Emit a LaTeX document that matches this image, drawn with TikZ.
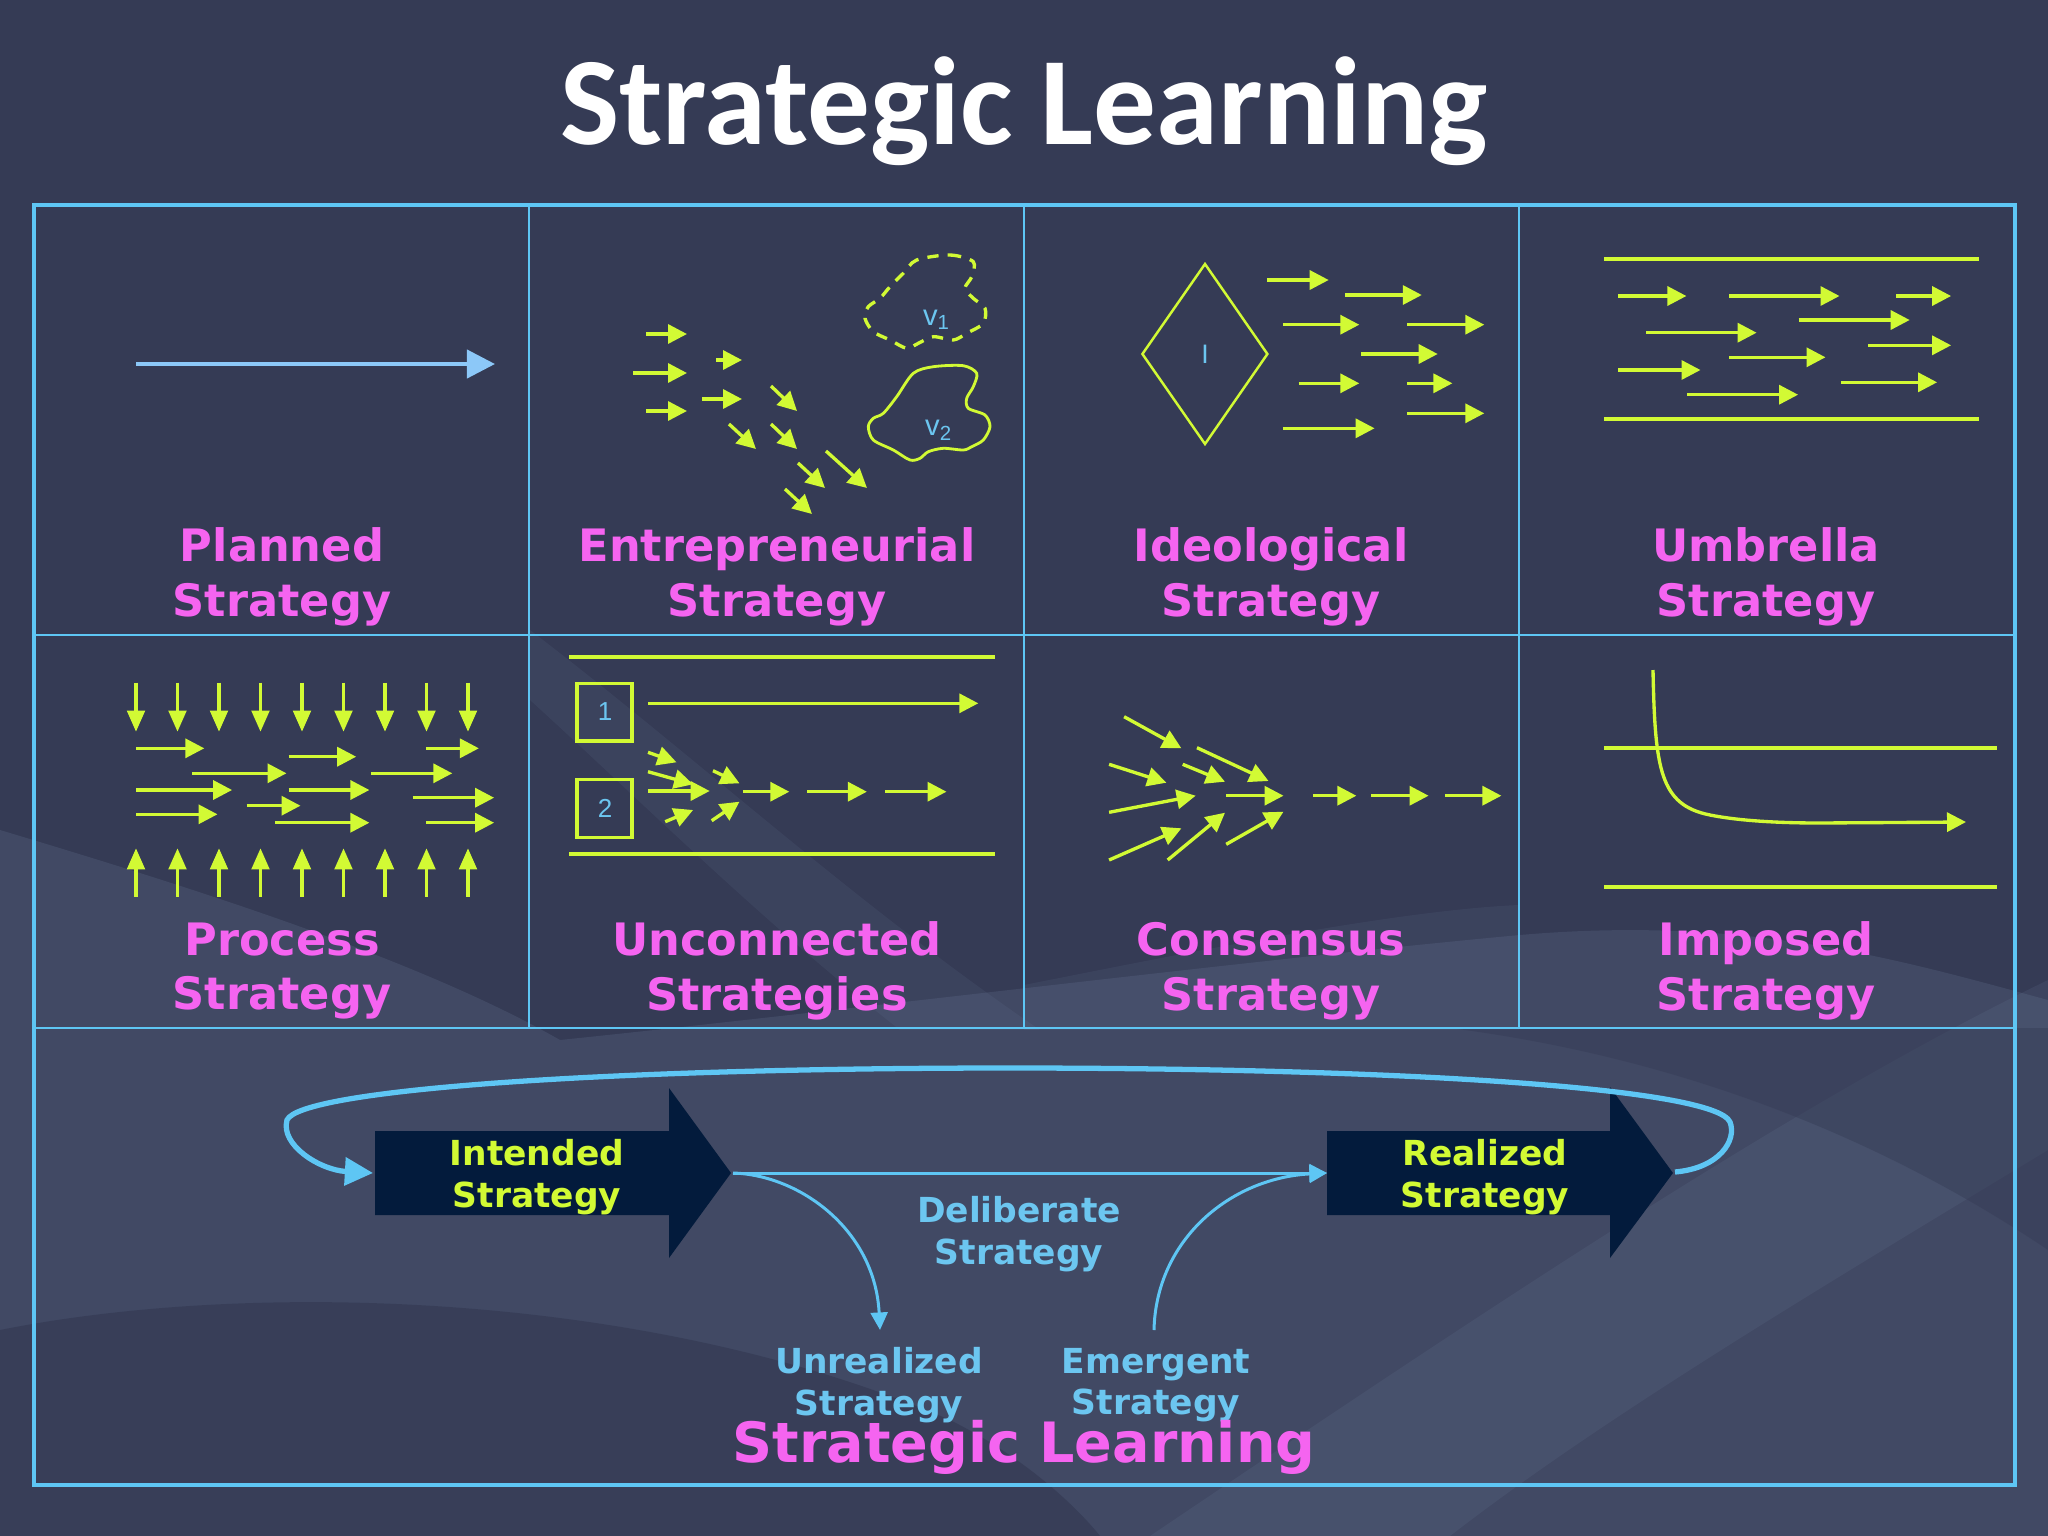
\documentclass[tikz,border=0pt]{standalone}
\usepackage{fontspec}
\setmainfont{DejaVu Sans}
\newfontfamily\titlefont{Carlito}
\newfontfamily\arialfont{Liberation Sans}
\usetikzlibrary{arrows.meta}
\definecolor{bgc}{RGB}{53,59,85}
\definecolor{wavec}{RGB}{120,140,170}
\definecolor{lineblue}{RGB}{94,198,244}
\definecolor{paleblue}{RGB}{140,200,248}
\definecolor{limec}{RGB}{210,250,52}
\definecolor{magc}{RGB}{245,100,240}
\definecolor{navyc}{RGB}{3,27,60}
\definecolor{txtblue}{RGB}{108,198,240}
\begin{document}
\begin{tikzpicture}[x=0.01cm,y=-0.01cm,
  gridl/.style={draw=lineblue,line width=0.75pt},
  yl/.style={draw=limec,line width=0.95pt},
  ya/.style={yl,-{Triangle[length=5.4pt,width=5.4pt]}},
  yav/.style={yl,-{Triangle[length=6pt,width=5pt]}},
  lbl/.style={text=magc,font=\bfseries\fontsize{12.7}{15.6}\selectfont,align=center},
  blbl/.style={text=txtblue,font=\bfseries\fontsize{9.8}{11.8}\selectfont,align=center},
  ylbl/.style={text=limec,font=\bfseries\fontsize{9.8}{11.8}\selectfont,align=center},
  sm/.style={text=txtblue,font=\arialfont\fontsize{8.3}{9}\selectfont,inner sep=0pt},
  bl/.style={draw=lineblue,line width=0.85pt}]
\useasboundingbox (0,0) rectangle (2048,1536);
% background
\fill[bgc] (0,0) rectangle (2048,1536);
\fill[wavec,opacity=0.18] (0,830) .. controls (200,890) and (420,960) .. (560,1040) .. controls (850,1010) and (1250,960) .. (1520,935) .. controls (1750,915) and (1900,960) .. (2048,1000) -- (2048,1536) -- (0,1536) -- cycle;
\fill[wavec,opacity=0.10] (530,630) .. controls (700,760) and (850,900) .. (1040,1030) -- (900,1030) .. controls (760,920) and (640,800) .. (530,700) -- cycle;
\fill[wavec,opacity=0.10] (1024,985) .. controls (1200,950) and (1400,910) .. (1519,905) -- (1519,1030) -- (1024,1030) -- cycle;
\fill[bgc,opacity=0.75] (0,1330) .. controls (250,1280) and (650,1290) .. (950,1420) .. controls (1050,1470) and (1100,1536) .. (1100,1536) -- (0,1536) -- cycle;
\fill[wavec,opacity=0.12] (1150,1536) .. controls (1500,1300) and (1800,1100) .. (2048,980) -- (2048,1150) .. controls (1800,1300) and (1600,1420) .. (1450,1536) -- cycle;
\fill[bgc,opacity=0.45] (1450,1028) .. controls (1700,1060) and (1900,1150) .. (2048,1250) -- (2048,1028) -- cycle;

% title
\node[text=white,font=\titlefont\bfseries\fontsize{35.6}{40}\selectfont,anchor=base] (title) at (1024,144) {Strategic Learning};

% grid
\draw[gridl] (529,205) -- (529,1028);
\draw[gridl] (1024,205) -- (1024,1028);
\draw[gridl] (1519,205) -- (1519,1028);
\draw[gridl] (34,635) -- (2015,635);
\draw[gridl] (34,1028) -- (2015,1028);
\draw[draw=lineblue,line width=1.4pt] (34,205) rectangle (2015,1485);

% labels
\node[lbl] (l1) at (282,577) {Planned\\Strategy};
\node[lbl] (l2) at (777,577) {Entrepreneurial\\Strategy};
\node[lbl] (l3) at (1271,577) {Ideological\\Strategy};
\node[lbl] (l4) at (1766,577) {Umbrella\\Strategy};
\node[lbl] (l5) at (282,971) {Process\\Strategy};
\node[lbl] (l6) at (777,971) {Unconnected\\Strategies};
\node[lbl] (l7) at (1271,971) {Consensus\\Strategy};
\node[lbl] (l8) at (1766,971) {Imposed\\Strategy};

% 1 planned
\draw[draw=paleblue,line width=1.15pt,-{Triangle[length=8pt,width=8pt]}] (136,364) -- (495,364);

% 2 entrepreneurial
\draw[ya] (646,334) -- (687,334);
\draw[ya] (633,373) -- (687,373);
\draw[ya] (646,411) -- (687,411);
\draw[ya] (716,360) -- (742,360);
\draw[ya] (702,399) -- (742,399);
\draw[ya] (771,386) -- (797,411);
\draw[ya] (729,424) -- (756,449);
\draw[ya] (771,424) -- (797,449);
\draw[ya] (826,451) -- (867,488);
\draw[ya] (798,463) -- (825,488);
\draw[ya] (785,489) -- (812,514);
\draw[yl,dash pattern=on 3.2pt off 2.6pt] plot[smooth cycle,tension=0.5] coordinates {(916.7,260) (950,255) (973.3,261.7) (971.7,276.7) (965,288.3) (973.3,298.3) (985,308.3) (983.3,323.3) (966.7,333.3) (953.3,340) (933.3,336.7) (918.3,343.3) (906.7,348.3) (890,340) (873.3,331.7) (865,318.3) (868.3,306.7) (880,298.3) (890,286.7) (903.3,273.3)};
\draw[yl,line width=0.8pt] plot[smooth cycle,tension=0.5] coordinates {(913.3,373.3) (933.3,366.7) (963.3,365.7) (976.7,373.3) (973.3,386.7) (966.7,398.3) (968.3,408.3) (985,415) (990,426.7) (983.3,440) (971.7,446.7) (963.3,450) (943.3,448.3) (928.3,451.7) (920,458.3) (910,460) (893.3,450) (873.3,440) (868.3,426.7) (873.3,418.3) (883.3,413.3) (896.7,396.7)};
\node[sm] (v1) at (937,320) {v\textsubscript{1}};
\node[sm] (v2) at (939,430) {v\textsubscript{2}};

% 3 ideological
\draw[yl,line width=0.7pt] (1205,264) -- (1267.4,354) -- (1205,444) -- (1142.4,354) -- cycle;
\node[sm,font=\arialfont\fontsize{7.6}{9}\selectfont] (ii) at (1205,354) {I};
\draw[ya] (1267.4,280) -- (1328.7,280);
\draw[ya] (1345.3,295) -- (1421.8,295);
\draw[ya] (1282.8,324.7) -- (1359.3,324.7);
\draw[ya] (1407.1,324.7) -- (1484.3,324.7);
\draw[ya] (1361.2,354) -- (1437.7,354);
\draw[ya] (1298.7,383.3) -- (1359.3,383.3);
\draw[ya] (1407.1,383.3) -- (1452.4,383.3);
\draw[ya] (1407.1,413.3) -- (1484.3,413.3);
\draw[ya] (1282.8,428.3) -- (1374.6,428.3);

% 4 umbrella
\draw[yl,line width=1.1pt] (1604,258.7) -- (1979,258.7);
\draw[yl,line width=1.1pt] (1604,419.3) -- (1979,419.3);
\draw[ya] (1618.2,296) -- (1686.4,296);
\draw[ya] (1729.2,296) -- (1839.5,296);
\draw[ya] (1896.3,296) -- (1951.1,296);
\draw[ya] (1798.7,320) -- (1909.7,320);
\draw[ya] (1646.3,332.7) -- (1756.6,332.7);
\draw[ya] (1868.2,345.3) -- (1951.1,345.3);
\draw[ya] (1729.2,357.3) -- (1825.5,357.3);
\draw[ya] (1618.2,370) -- (1700.5,370);
\draw[ya] (1840.8,382.3) -- (1937.1,382.3);
\draw[ya] (1687.1,394.7) -- (1798.1,394.7);

% 5 process
\foreach \x in {136,177.5,219,260.5,302,343.5,385,426.5,468}{
  \draw[yav] (\x,682.7) -- (\x,731.7);
  \draw[yav] (\x,896.7) -- (\x,848.3);
}
\draw[ya] (136,748.3) -- (204.3,748.3);
\draw[ya] (288.5,756.7) -- (356.2,756.7);
\draw[ya] (425.8,748.3) -- (478.9,748.3);
\draw[ya] (192.3,773.3) -- (286.5,773.3);
\draw[ya] (371.4,773.3) -- (452.3,773.3);
\draw[ya] (136,790) -- (232.1,790);
\draw[ya] (288.5,790) -- (369.4,790);
\draw[ya] (412.5,797.7) -- (494.1,797.7);
\draw[ya] (246.7,805.7) -- (300.5,805.7);
\draw[ya] (136,814.3) -- (217.5,814.3);
\draw[ya] (275.3,822.7) -- (369.4,822.7);
\draw[ya] (425.8,822.7) -- (494.1,822.7);

% 6 unconnected
\draw[yl,line width=1.1pt] (569,656.7) -- (995,656.7);
\draw[yl,line width=1.1pt] (569,854.3) -- (995,854.3);
\draw[yl,line width=1pt] (577,683.3) rectangle (632,741);
\draw[yl,line width=1pt] (577,779.3) rectangle (632,837.3);
\node[sm,font=\arialfont\fontsize{7.4}{9}\selectfont] (n1) at (605,712) {1};
\node[sm,font=\arialfont\fontsize{7.4}{9}\selectfont] (n2) at (605,808) {2};
\draw[ya] (648,703.3) -- (978.3,703.3);
\draw[ya] (648,752.3) -- (676.5,762.3);
\draw[ya] (648,771.7) -- (693.1,784.3);
\draw[ya] (648,791) -- (709.7,791);
\draw[ya] (665.2,821.7) -- (693.1,810);
\draw[ya] (713,770.7) -- (739.5,783.3);
\draw[ya] (711.7,820.7) -- (739.5,801.7);
\draw[ya] (742.8,791.7) -- (789.3,791.7);
\draw[ya] (807.2,791.7) -- (866.9,791.7);
\draw[ya] (885.4,791.7) -- (946.5,791.7);

% 7 consensus
\draw[ya] (1124.1,716.7) -- (1181.4,748.3);
\draw[ya] (1197,747.7) -- (1268.5,781);
\draw[ya] (1109.1,764.3) -- (1166.4,782.7);
\draw[ya] (1182.7,764.3) -- (1225,781.7);
\draw[ya] (1109.1,812.3) -- (1195.7,795.7);
\draw[ya] (1226.2,795.7) -- (1283.5,795.7);
\draw[ya] (1312.8,795.7) -- (1356.4,795.7);
\draw[ya] (1371.3,795.7) -- (1428.6,795.7);
\draw[ya] (1444.9,795.7) -- (1501.4,795.7);
\draw[ya] (1109.1,860) -- (1181.4,828.3);
\draw[ya] (1167.7,860) -- (1225,812.7);
\draw[ya] (1226.2,844.3) -- (1283.5,811.7);

% 8 imposed
\draw[yl,line width=1.1pt] (1604,747.7) -- (1997,747.7);
\draw[yl,line width=1.1pt] (1604,887.3) -- (1997,887.3);
\draw[ya] (1653,670) .. controls (1655,770) and (1660,805) .. (1710,815) .. controls (1740,821) and (1780,823) .. (1820,823) -- (1966,822);

% bottom panel
\fill[navyc] (375,1131) -- (669,1131) -- (669,1088) -- (731,1173) -- (669,1258) -- (669,1215) -- (375,1215) -- cycle;
\fill[navyc] (1327,1131) -- (1610,1131) -- (1610,1087) -- (1673,1173) -- (1610,1258) -- (1610,1215) -- (1327,1215) -- cycle;
\coordinate (itip) at (733,1173);
\coordinate (ileft) at (373,1173);
\coordinate (rleft) at (1327,1173);
\coordinate (rtip) at (1675,1172);
\coordinate (uend) at (880,1330);
\coordinate (estart) at (1154,1330);
\node[ylbl] (intended) at (537,1177) {Intended\\Strategy};
\node[ylbl] (realized) at (1485,1177) {Realized\\Strategy};
\node[blbl] (delib) at (1019,1234) {Deliberate\\Strategy};
\node[blbl] (unreal) at (879,1385) {Unrealized\\Strategy};
\node[blbl] (emerg) at (1156,1385) {Emergent\\Strategy};
\draw[bl,-{Triangle[length=5pt,width=5pt]}] (itip) -- (rleft);
\draw[bl,-{Triangle[length=5pt,width=4.8pt]}] (itip) .. controls (800,1175) and (875,1230) .. (uend);
\draw[bl,-{Triangle[length=5pt,width=5pt]}] (estart) .. controls (1156,1240) and (1230,1178) .. (rleft);
\draw[draw=lineblue,line width=1.5pt,-{Triangle[length=8pt,width=7.8pt]}] (rtip) .. controls (1720,1168) and (1737,1140) .. (1730,1122) .. controls (1715,1088) and (1400,1068) .. (1010,1068) .. controls (600,1068) and (300,1090) .. (287,1120) .. controls (280,1145) and (320,1170) .. (ileft);
\node[text=magc,font=\bfseries\fontsize{15.8}{18}\selectfont,anchor=base] (sl) at (1024,1462) {Strategic Learning};
\end{tikzpicture}
\end{document}
